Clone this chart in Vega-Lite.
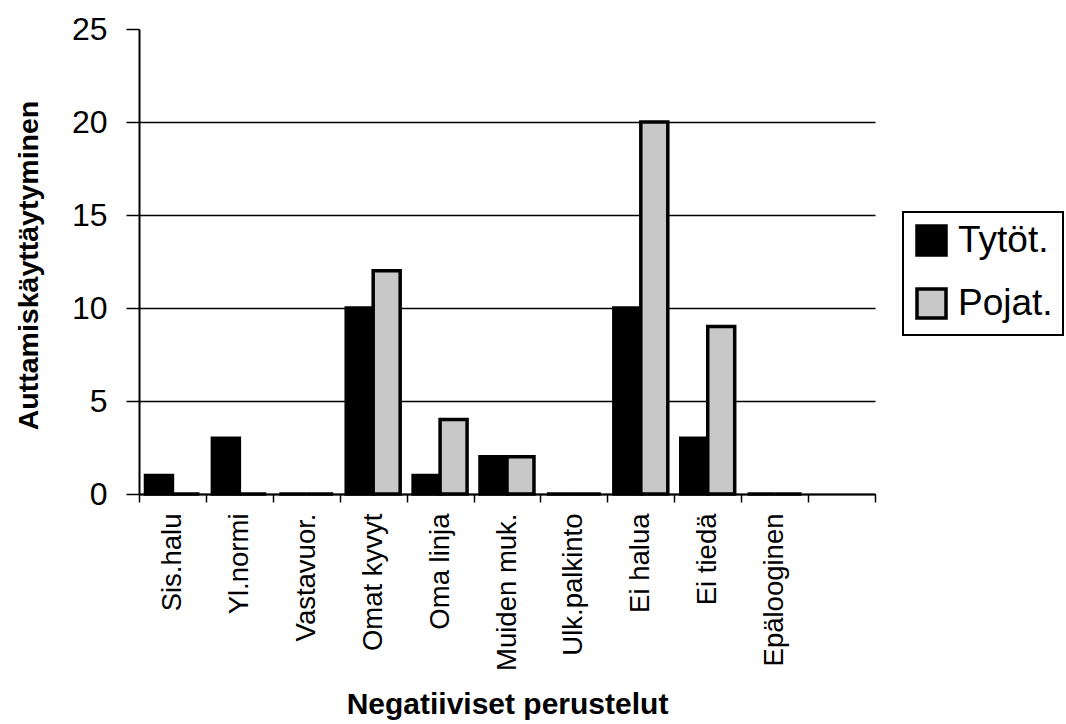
{
  "$schema": "https://vega.github.io/schema/vega-lite/v6.json",
  "width": 736,
  "height": 465,
  "autosize": {"type": "none"},
  "padding": {"left": 139, "top": 29, "right": 191, "bottom": 230},
  "background": "white",
  "config": {"view": {"stroke": null}, "font": "Liberation Sans", "legend": {"strokeWidth": 2}},
  "data": {
    "values": [
      {"perustelu": "Sis.halu", "sukupuoli": "Tytöt.", "arvo": 1},
      {"perustelu": "Sis.halu", "sukupuoli": "Pojat.", "arvo": 0},
      {"perustelu": "Yl.normi", "sukupuoli": "Tytöt.", "arvo": 3},
      {"perustelu": "Yl.normi", "sukupuoli": "Pojat.", "arvo": 0},
      {"perustelu": "Vastavuor.", "sukupuoli": "Tytöt.", "arvo": 0},
      {"perustelu": "Vastavuor.", "sukupuoli": "Pojat.", "arvo": 0},
      {"perustelu": "Omat kyvyt", "sukupuoli": "Tytöt.", "arvo": 10},
      {"perustelu": "Omat kyvyt", "sukupuoli": "Pojat.", "arvo": 12},
      {"perustelu": "Oma linja", "sukupuoli": "Tytöt.", "arvo": 1},
      {"perustelu": "Oma linja", "sukupuoli": "Pojat.", "arvo": 4},
      {"perustelu": "Muiden muk.", "sukupuoli": "Tytöt.", "arvo": 2},
      {"perustelu": "Muiden muk.", "sukupuoli": "Pojat.", "arvo": 2},
      {"perustelu": "Ulk.palkinto", "sukupuoli": "Tytöt.", "arvo": 0},
      {"perustelu": "Ulk.palkinto", "sukupuoli": "Pojat.", "arvo": 0},
      {"perustelu": "Ei halua", "sukupuoli": "Tytöt.", "arvo": 10},
      {"perustelu": "Ei halua", "sukupuoli": "Pojat.", "arvo": 20},
      {"perustelu": "Ei tiedä", "sukupuoli": "Tytöt.", "arvo": 3},
      {"perustelu": "Ei tiedä", "sukupuoli": "Pojat.", "arvo": 9},
      {"perustelu": "Epälooginen", "sukupuoli": "Tytöt.", "arvo": 0},
      {"perustelu": "Epälooginen", "sukupuoli": "Pojat.", "arvo": 0}
    ]
  },
  "mark": {"type": "bar", "stroke": "black", "strokeWidth": 3.5},
  "encoding": {
    "x": {
      "field": "perustelu",
      "type": "nominal",
      "sort": null,
      "scale": {
        "domain": ["Sis.halu", "Yl.normi", "Vastavuor.", "Omat kyvyt", "Oma linja", "Muiden muk.", "Ulk.palkinto", "Ei halua", "Ei tiedä", "Epälooginen", " "],
        "paddingInner": 0,
        "paddingOuter": 0
      },
      "axis": {
        "title": "Negatiiviset perustelut",
        "labelAngle": 270,
        "labelAlign": "right",
        "labelBaseline": "middle",
        "labelFontSize": 27.5,
        "labelColor": "black",
        "labelPadding": 11,
        "labelLimit": 0,
        "tickBand": "extent",
        "tickSize": 8,
        "tickColor": "black",
        "tickWidth": 1.5,
        "domainColor": "black",
        "domainWidth": 2,
        "titleFontSize": 30,
        "titleFontWeight": "bold",
        "titleColor": "black",
        "titleX": 368,
        "titleY": 219,
        "titleAlign": "center",
        "titleBaseline": "alphabetic"
      }
    },
    "xOffset": {
      "field": "sukupuoli",
      "type": "nominal",
      "sort": ["Tytöt.", "Pojat."],
      "scale": {"paddingInner": 0, "paddingOuter": 0.24}
    },
    "y": {
      "field": "arvo",
      "type": "quantitative",
      "scale": {"domain": [0, 25], "nice": false},
      "axis": {
        "title": "Auttamiskäyttäytyminen",
        "values": [0, 5, 10, 15, 20, 25],
        "labelFontSize": 32,
        "labelColor": "black",
        "labelPadding": 19,
        "tickSize": 13,
        "tickColor": "black",
        "tickWidth": 1.5,
        "domainColor": "black",
        "domainWidth": 2,
        "grid": true,
        "gridColor": "black",
        "gridWidth": 1.5,
        "gridOpacity": {"condition": {"test": "datum.value >= 25", "value": 0}, "value": 1},
        "titleFontSize": 28.5,
        "titleFontWeight": "bold",
        "titleColor": "black",
        "titleAngle": 270,
        "titleX": -102,
        "titleY": 236,
        "titleAlign": "center",
        "titleBaseline": "alphabetic"
      }
    },
    "color": {
      "field": "sukupuoli",
      "type": "nominal",
      "sort": ["Tytöt.", "Pojat."],
      "scale": {"domain": ["Tytöt.", "Pojat."], "range": ["black", "#c8c8c8"]},
      "legend": {
        "orient": "none",
        "legendX": 764,
        "legendY": 183,
        "title": null,
        "symbolType": "square",
        "symbolSize": 841,
        "symbolStrokeColor": "black",
        "symbolStrokeWidth": 3.5,
        "labelFontSize": 37,
        "labelColor": "black",
        "labelOffset": 8,
        "rowPadding": 20,
        "padding": 10,
        "strokeColor": "black",
        "fillColor": "white"
      }
    }
  }
}
